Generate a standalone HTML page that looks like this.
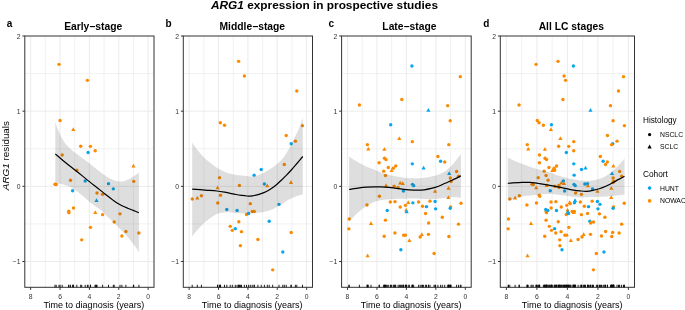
<!DOCTYPE html>
<html><head><meta charset="utf-8"><title>ARG1 expression in prospective studies</title>
<style>html,body{margin:0;padding:0;background:#fff;width:685px;height:310px;overflow:hidden}svg{display:block;will-change:transform}text{font-family:"Liberation Sans", sans-serif}</style>
</head><body>
<svg width="685" height="310" viewBox="0 0 685 310" font-family='"Liberation Sans", sans-serif' fill="#000"><text x="211.0" y="8.9" font-size="11.8" font-weight="bold" textLength="227" lengthAdjust="spacingAndGlyphs"><tspan font-style="italic">ARG1</tspan> expression in prospective studies</text>
<line x1="133.45" y1="36.0" x2="133.45" y2="287.3" stroke="#EEEEEE" stroke-width="0.8"/>
<line x1="104.08" y1="36.0" x2="104.08" y2="287.3" stroke="#EEEEEE" stroke-width="0.8"/>
<line x1="74.72" y1="36.0" x2="74.72" y2="287.3" stroke="#EEEEEE" stroke-width="0.8"/>
<line x1="45.35" y1="36.0" x2="45.35" y2="287.3" stroke="#EEEEEE" stroke-width="0.8"/>
<line x1="24.8" y1="223.93" x2="154.0" y2="223.93" stroke="#EEEEEE" stroke-width="0.8"/>
<line x1="24.8" y1="148.75" x2="154.0" y2="148.75" stroke="#EEEEEE" stroke-width="0.8"/>
<line x1="24.8" y1="73.59" x2="154.0" y2="73.59" stroke="#EEEEEE" stroke-width="0.8"/>
<line x1="148.13" y1="36.0" x2="148.13" y2="287.3" stroke="#EBEBEB" stroke-width="1.0"/>
<line x1="118.76" y1="36.0" x2="118.76" y2="287.3" stroke="#EBEBEB" stroke-width="1.0"/>
<line x1="89.40" y1="36.0" x2="89.40" y2="287.3" stroke="#EBEBEB" stroke-width="1.0"/>
<line x1="60.04" y1="36.0" x2="60.04" y2="287.3" stroke="#EBEBEB" stroke-width="1.0"/>
<line x1="30.67" y1="36.0" x2="30.67" y2="287.3" stroke="#EBEBEB" stroke-width="1.0"/>
<line x1="24.8" y1="261.51" x2="154.0" y2="261.51" stroke="#EBEBEB" stroke-width="1.0"/>
<line x1="24.8" y1="186.34" x2="154.0" y2="186.34" stroke="#EBEBEB" stroke-width="1.0"/>
<line x1="24.8" y1="111.17" x2="154.0" y2="111.17" stroke="#EBEBEB" stroke-width="1.0"/>
<circle cx="59.00" cy="64.35" r="1.7" fill="#FB8A00"/>
<circle cx="87.40" cy="80.35" r="1.7" fill="#FB8A00"/>
<circle cx="60.10" cy="120.45" r="1.7" fill="#FB8A00"/>
<circle cx="80.70" cy="146.25" r="1.7" fill="#FB8A00"/>
<circle cx="90.40" cy="146.35" r="1.7" fill="#FB8A00"/>
<circle cx="95.20" cy="150.75" r="1.7" fill="#FB8A00"/>
<circle cx="62.20" cy="155.05" r="1.7" fill="#FB8A00"/>
<circle cx="76.80" cy="170.25" r="1.7" fill="#FB8A00"/>
<circle cx="55.00" cy="184.25" r="1.7" fill="#FB8A00"/>
<circle cx="56.20" cy="184.45" r="1.7" fill="#FB8A00"/>
<circle cx="70.50" cy="180.25" r="1.7" fill="#FB8A00"/>
<circle cx="73.50" cy="207.95" r="1.7" fill="#FB8A00"/>
<circle cx="68.70" cy="211.15" r="1.7" fill="#FB8A00"/>
<circle cx="68.90" cy="212.65" r="1.7" fill="#FB8A00"/>
<circle cx="133.70" cy="181.35" r="1.7" fill="#FB8A00"/>
<circle cx="97.00" cy="193.05" r="1.7" fill="#FB8A00"/>
<circle cx="102.60" cy="194.35" r="1.7" fill="#FB8A00"/>
<circle cx="102.60" cy="214.65" r="1.7" fill="#FB8A00"/>
<circle cx="120.00" cy="213.85" r="1.7" fill="#FB8A00"/>
<circle cx="114.20" cy="221.95" r="1.7" fill="#FB8A00"/>
<circle cx="90.50" cy="227.35" r="1.7" fill="#FB8A00"/>
<circle cx="125.90" cy="231.55" r="1.7" fill="#FB8A00"/>
<circle cx="121.90" cy="235.95" r="1.7" fill="#FB8A00"/>
<circle cx="138.90" cy="232.95" r="1.7" fill="#FB8A00"/>
<circle cx="81.70" cy="239.85" r="1.7" fill="#FB8A00"/>
<path d="M73.30,127.35 L75.40,131.12 L71.20,131.12 Z" fill="#FB8A00"/>
<path d="M133.40,163.84 L135.50,167.62 L131.30,167.62 Z" fill="#FB8A00"/>
<path d="M95.30,210.34 L97.40,214.12 L93.20,214.12 Z" fill="#FB8A00"/>
<circle cx="88.10" cy="152.45" r="1.7" fill="#0AA6EA"/>
<circle cx="85.20" cy="180.95" r="1.7" fill="#0AA6EA"/>
<circle cx="72.60" cy="190.75" r="1.7" fill="#0AA6EA"/>
<circle cx="108.50" cy="183.65" r="1.7" fill="#0AA6EA"/>
<circle cx="113.30" cy="188.85" r="1.7" fill="#0AA6EA"/>
<path d="M96.50,198.25 L98.60,202.03 L94.40,202.03 Z" fill="#0AA6EA"/>
<path d="M55.30,122.00 C55.83,123.50 57.42,128.33 58.50,131.00 C59.58,133.67 60.72,136.00 61.80,138.00 C62.88,140.00 63.87,141.48 65.00,143.00 C66.13,144.52 67.35,145.80 68.60,147.10 C69.85,148.40 71.00,149.57 72.50,150.80 C74.00,152.03 75.52,152.97 77.60,154.50 C79.68,156.03 82.68,158.25 85.00,160.00 C87.32,161.75 89.35,163.30 91.50,165.00 C93.65,166.70 95.75,168.53 97.90,170.20 C100.05,171.87 102.25,173.53 104.40,175.00 C106.55,176.47 108.65,177.97 110.80,179.00 C112.95,180.03 115.15,180.83 117.30,181.20 C119.45,181.57 121.55,181.67 123.70,181.20 C125.85,180.73 128.27,179.40 130.20,178.40 C132.13,177.40 133.85,176.20 135.30,175.20 C136.75,174.20 138.30,172.87 138.90,172.40 L138.90,252.30 C138.05,251.02 136.27,247.82 133.80,244.60 C131.33,241.38 127.33,236.55 124.10,233.00 C120.87,229.45 117.63,226.47 114.40,223.30 C111.17,220.13 106.83,216.13 104.70,214.00 C102.57,211.87 103.18,211.78 101.60,210.50 C100.02,209.22 97.35,207.83 95.20,206.30 C93.05,204.77 90.85,203.08 88.70,201.30 C86.55,199.52 84.45,197.40 82.30,195.60 C80.15,193.80 77.95,192.00 75.80,190.50 C73.65,189.00 71.28,187.52 69.40,186.60 C67.52,185.68 66.02,185.47 64.50,185.00 C62.98,184.53 61.83,184.07 60.30,183.80 C58.77,183.53 56.13,183.47 55.30,183.40 Z" fill="#333333" fill-opacity="0.16"/>
<path d="M55.30,153.90 C56.83,155.20 61.75,159.43 64.50,161.70 C67.25,163.97 69.37,165.57 71.80,167.50 C74.23,169.43 76.68,171.37 79.10,173.30 C81.52,175.23 83.88,177.15 86.30,179.10 C88.72,181.05 91.38,183.25 93.60,185.00 C95.82,186.75 97.70,188.10 99.60,189.60 C101.50,191.10 103.17,192.55 105.00,194.00 C106.83,195.45 108.72,196.88 110.60,198.30 C112.48,199.72 114.40,201.27 116.30,202.50 C118.20,203.73 120.12,204.75 122.00,205.70 C123.88,206.65 125.73,207.42 127.60,208.20 C129.47,208.98 131.32,209.65 133.20,210.40 C135.08,211.15 137.95,212.32 138.90,212.70" fill="none" stroke="#000" stroke-width="1.2"/>
<path d="M55.00,284.80V287.60 M56.20,284.80V287.60 M59.00,284.80V287.60 M60.10,284.80V287.60 M62.20,284.80V287.60 M68.70,284.80V287.60 M68.90,284.80V287.60 M70.50,284.80V287.60 M72.60,284.80V287.60 M73.30,284.80V287.60 M73.50,284.80V287.60 M76.80,284.80V287.60 M80.70,284.80V287.60 M81.70,284.80V287.60 M85.20,284.80V287.60 M87.40,284.80V287.60 M88.10,284.80V287.60 M90.40,284.80V287.60 M90.50,284.80V287.60 M95.20,284.80V287.60 M95.30,284.80V287.60 M96.50,284.80V287.60 M97.00,284.80V287.60 M102.60,284.80V287.60 M108.50,284.80V287.60 M113.30,284.80V287.60 M114.20,284.80V287.60 M120.00,284.80V287.60 M121.90,284.80V287.60 M125.90,284.80V287.60 M133.40,284.80V287.60 M133.70,284.80V287.60 M138.90,284.80V287.60" stroke="#000" stroke-width="0.9"/>
<rect x="24.8" y="36.0" width="129.20" height="251.30" fill="none" stroke="#333333" stroke-width="1.0"/>
<path d="M22.40,261.51H24.80 M22.40,186.34H24.80 M22.40,111.17H24.80 M22.40,36.00H24.80 M148.13,287.30V289.90 M118.76,287.30V289.90 M89.40,287.30V289.90 M60.04,287.30V289.90 M30.67,287.30V289.90" stroke="#333333" stroke-width="1"/>
<text x="20.50" y="264.11" font-size="6.8" fill="#333333" text-anchor="end">−1</text>
<text x="20.50" y="188.94" font-size="6.8" fill="#333333" text-anchor="end">0</text>
<text x="20.50" y="113.77" font-size="6.8" fill="#333333" text-anchor="end">1</text>
<text x="20.50" y="38.60" font-size="6.8" fill="#333333" text-anchor="end">2</text>
<text x="148.13" y="298.60" font-size="6.8" fill="#333333" text-anchor="middle">0</text>
<text x="118.76" y="298.60" font-size="6.8" fill="#333333" text-anchor="middle">2</text>
<text x="89.40" y="298.60" font-size="6.8" fill="#333333" text-anchor="middle">4</text>
<text x="60.04" y="298.60" font-size="6.8" fill="#333333" text-anchor="middle">6</text>
<text x="30.67" y="298.60" font-size="6.8" fill="#333333" text-anchor="middle">8</text>
<text x="93.80" y="307.8" font-size="9.0" text-anchor="middle">Time to diagnosis (years)</text>
<text x="93.20" y="30.2" font-size="10.3" font-weight="bold" text-anchor="middle">Early−stage</text>
<text x="6.80" y="27.3" font-size="10" font-weight="bold">a</text>
<line x1="291.95" y1="36.0" x2="291.95" y2="287.3" stroke="#EEEEEE" stroke-width="0.8"/>
<line x1="262.58" y1="36.0" x2="262.58" y2="287.3" stroke="#EEEEEE" stroke-width="0.8"/>
<line x1="233.22" y1="36.0" x2="233.22" y2="287.3" stroke="#EEEEEE" stroke-width="0.8"/>
<line x1="203.85" y1="36.0" x2="203.85" y2="287.3" stroke="#EEEEEE" stroke-width="0.8"/>
<line x1="183.3" y1="223.93" x2="312.5" y2="223.93" stroke="#EEEEEE" stroke-width="0.8"/>
<line x1="183.3" y1="148.75" x2="312.5" y2="148.75" stroke="#EEEEEE" stroke-width="0.8"/>
<line x1="183.3" y1="73.59" x2="312.5" y2="73.59" stroke="#EEEEEE" stroke-width="0.8"/>
<line x1="306.63" y1="36.0" x2="306.63" y2="287.3" stroke="#EBEBEB" stroke-width="1.0"/>
<line x1="277.26" y1="36.0" x2="277.26" y2="287.3" stroke="#EBEBEB" stroke-width="1.0"/>
<line x1="247.90" y1="36.0" x2="247.90" y2="287.3" stroke="#EBEBEB" stroke-width="1.0"/>
<line x1="218.54" y1="36.0" x2="218.54" y2="287.3" stroke="#EBEBEB" stroke-width="1.0"/>
<line x1="189.17" y1="36.0" x2="189.17" y2="287.3" stroke="#EBEBEB" stroke-width="1.0"/>
<line x1="183.3" y1="261.51" x2="312.5" y2="261.51" stroke="#EBEBEB" stroke-width="1.0"/>
<line x1="183.3" y1="186.34" x2="312.5" y2="186.34" stroke="#EBEBEB" stroke-width="1.0"/>
<line x1="183.3" y1="111.17" x2="312.5" y2="111.17" stroke="#EBEBEB" stroke-width="1.0"/>
<circle cx="238.60" cy="61.35" r="1.7" fill="#FB8A00"/>
<circle cx="244.40" cy="75.95" r="1.7" fill="#FB8A00"/>
<circle cx="296.80" cy="91.05" r="1.7" fill="#FB8A00"/>
<circle cx="220.30" cy="122.75" r="1.7" fill="#FB8A00"/>
<circle cx="224.50" cy="125.25" r="1.7" fill="#FB8A00"/>
<circle cx="302.50" cy="125.65" r="1.7" fill="#FB8A00"/>
<circle cx="286.20" cy="135.55" r="1.7" fill="#FB8A00"/>
<circle cx="295.40" cy="141.15" r="1.7" fill="#FB8A00"/>
<circle cx="284.30" cy="164.45" r="1.7" fill="#FB8A00"/>
<circle cx="219.50" cy="177.65" r="1.7" fill="#FB8A00"/>
<circle cx="239.40" cy="185.45" r="1.7" fill="#FB8A00"/>
<circle cx="220.50" cy="195.25" r="1.7" fill="#FB8A00"/>
<circle cx="201.40" cy="195.75" r="1.7" fill="#FB8A00"/>
<circle cx="192.20" cy="199.05" r="1.7" fill="#FB8A00"/>
<circle cx="217.80" cy="203.05" r="1.7" fill="#FB8A00"/>
<circle cx="246.50" cy="214.55" r="1.7" fill="#FB8A00"/>
<circle cx="238.80" cy="221.75" r="1.7" fill="#FB8A00"/>
<circle cx="230.20" cy="226.35" r="1.7" fill="#FB8A00"/>
<circle cx="232.30" cy="230.35" r="1.7" fill="#FB8A00"/>
<circle cx="241.50" cy="231.65" r="1.7" fill="#FB8A00"/>
<circle cx="240.40" cy="245.65" r="1.7" fill="#FB8A00"/>
<circle cx="250.30" cy="203.65" r="1.7" fill="#FB8A00"/>
<circle cx="252.20" cy="211.45" r="1.7" fill="#FB8A00"/>
<circle cx="254.30" cy="211.45" r="1.7" fill="#FB8A00"/>
<circle cx="291.20" cy="232.45" r="1.7" fill="#FB8A00"/>
<circle cx="257.90" cy="239.45" r="1.7" fill="#FB8A00"/>
<circle cx="272.70" cy="269.85" r="1.7" fill="#FB8A00"/>
<path d="M217.60,185.54 L219.70,189.32 L215.50,189.32 Z" fill="#FB8A00"/>
<path d="M197.30,195.84 L199.40,199.62 L195.20,199.62 Z" fill="#FB8A00"/>
<path d="M267.30,183.44 L269.40,187.22 L265.20,187.22 Z" fill="#FB8A00"/>
<path d="M291.00,180.34 L293.10,184.12 L288.90,184.12 Z" fill="#FB8A00"/>
<circle cx="291.20" cy="143.75" r="1.7" fill="#0AA6EA"/>
<circle cx="226.80" cy="209.55" r="1.7" fill="#0AA6EA"/>
<circle cx="237.10" cy="210.55" r="1.7" fill="#0AA6EA"/>
<circle cx="235.30" cy="228.65" r="1.7" fill="#0AA6EA"/>
<circle cx="261.20" cy="169.55" r="1.7" fill="#0AA6EA"/>
<circle cx="254.10" cy="175.15" r="1.7" fill="#0AA6EA"/>
<circle cx="264.40" cy="183.95" r="1.7" fill="#0AA6EA"/>
<circle cx="279.00" cy="204.35" r="1.7" fill="#0AA6EA"/>
<circle cx="248.60" cy="213.55" r="1.7" fill="#0AA6EA"/>
<circle cx="269.20" cy="221.25" r="1.7" fill="#0AA6EA"/>
<circle cx="282.80" cy="251.95" r="1.7" fill="#0AA6EA"/>
<path d="M192.20,142.50 C193.32,144.05 196.72,149.08 198.90,151.80 C201.08,154.52 203.15,156.77 205.30,158.80 C207.45,160.83 209.65,162.38 211.80,164.00 C213.95,165.62 216.05,167.22 218.20,168.50 C220.35,169.78 222.33,170.73 224.70,171.70 C227.07,172.67 229.63,173.65 232.40,174.30 C235.17,174.95 238.37,175.22 241.30,175.60 C244.23,175.98 247.62,176.53 250.00,176.60 C252.38,176.67 253.72,176.47 255.60,176.00 C257.48,175.53 259.42,174.63 261.30,173.80 C263.18,172.97 265.02,172.03 266.90,171.00 C268.78,169.97 270.72,168.92 272.60,167.60 C274.48,166.28 276.32,164.88 278.20,163.10 C280.08,161.32 282.20,159.12 283.90,156.90 C285.60,154.68 287.13,151.95 288.40,149.80 C289.67,147.65 290.42,146.13 291.50,144.00 C292.58,141.87 293.58,139.73 294.90,137.00 C296.22,134.27 298.08,130.87 299.40,127.60 C300.72,124.33 302.23,119.10 302.80,117.40 L302.80,194.50 C301.60,194.82 298.00,195.52 295.60,196.40 C293.20,197.28 290.33,198.75 288.40,199.80 C286.47,200.85 285.93,201.50 284.00,202.70 C282.07,203.90 279.22,205.68 276.80,207.00 C274.38,208.32 271.92,209.73 269.50,210.60 C267.08,211.47 264.88,211.82 262.30,212.20 C259.72,212.58 256.98,212.70 254.00,212.90 C251.02,213.10 247.40,213.40 244.40,213.40 C241.40,213.40 238.63,213.08 236.00,212.90 C233.37,212.72 231.12,212.28 228.60,212.30 C226.08,212.32 223.15,212.57 220.90,213.00 C218.65,213.43 217.68,213.45 215.10,214.90 C212.52,216.35 208.32,219.22 205.40,221.70 C202.48,224.18 199.80,227.33 197.60,229.80 C195.40,232.27 193.10,235.38 192.20,236.50 Z" fill="#333333" fill-opacity="0.16"/>
<path d="M192.20,189.10 C194.40,189.27 201.27,189.78 205.40,190.10 C209.53,190.42 213.77,190.65 217.00,191.00 C220.23,191.35 221.63,191.62 224.80,192.20 C227.97,192.78 233.25,193.97 236.00,194.50 C238.75,195.03 239.48,195.15 241.30,195.40 C243.12,195.65 245.02,195.93 246.90,196.00 C248.78,196.07 250.72,196.03 252.60,195.80 C254.48,195.57 256.32,195.13 258.20,194.60 C260.08,194.07 262.02,193.40 263.90,192.60 C265.78,191.80 267.62,190.93 269.50,189.80 C271.38,188.67 273.32,187.32 275.20,185.80 C277.08,184.28 278.92,182.48 280.80,180.70 C282.68,178.92 284.75,176.88 286.50,175.10 C288.25,173.32 289.63,171.85 291.30,170.00 C292.97,168.15 294.58,166.25 296.50,164.00 C298.42,161.75 301.75,157.75 302.80,156.50" fill="none" stroke="#000" stroke-width="1.2"/>
<path d="M192.20,284.80V287.60 M197.30,284.80V287.60 M201.40,284.80V287.60 M217.60,284.80V287.60 M217.80,284.80V287.60 M219.50,284.80V287.60 M220.30,284.80V287.60 M220.50,284.80V287.60 M224.50,284.80V287.60 M226.80,284.80V287.60 M230.20,284.80V287.60 M232.30,284.80V287.60 M235.30,284.80V287.60 M237.10,284.80V287.60 M238.60,284.80V287.60 M238.80,284.80V287.60 M239.40,284.80V287.60 M240.40,284.80V287.60 M241.50,284.80V287.60 M244.40,284.80V287.60 M246.50,284.80V287.60 M248.60,284.80V287.60 M250.30,284.80V287.60 M252.20,284.80V287.60 M254.10,284.80V287.60 M254.30,284.80V287.60 M257.90,284.80V287.60 M261.20,284.80V287.60 M264.40,284.80V287.60 M267.30,284.80V287.60 M269.20,284.80V287.60 M272.70,284.80V287.60 M279.00,284.80V287.60 M282.80,284.80V287.60 M284.30,284.80V287.60 M286.20,284.80V287.60 M291.00,284.80V287.60 M291.20,284.80V287.60 M295.40,284.80V287.60 M296.80,284.80V287.60 M302.50,284.80V287.60" stroke="#000" stroke-width="0.9"/>
<rect x="183.3" y="36.0" width="129.20" height="251.30" fill="none" stroke="#333333" stroke-width="1.0"/>
<path d="M180.90,261.51H183.30 M180.90,186.34H183.30 M180.90,111.17H183.30 M180.90,36.00H183.30 M306.63,287.30V289.90 M277.26,287.30V289.90 M247.90,287.30V289.90 M218.54,287.30V289.90 M189.17,287.30V289.90" stroke="#333333" stroke-width="1"/>
<text x="179.00" y="264.11" font-size="6.8" fill="#333333" text-anchor="end">−1</text>
<text x="179.00" y="188.94" font-size="6.8" fill="#333333" text-anchor="end">0</text>
<text x="179.00" y="113.77" font-size="6.8" fill="#333333" text-anchor="end">1</text>
<text x="179.00" y="38.60" font-size="6.8" fill="#333333" text-anchor="end">2</text>
<text x="306.63" y="298.60" font-size="6.8" fill="#333333" text-anchor="middle">0</text>
<text x="277.26" y="298.60" font-size="6.8" fill="#333333" text-anchor="middle">2</text>
<text x="247.90" y="298.60" font-size="6.8" fill="#333333" text-anchor="middle">4</text>
<text x="218.54" y="298.60" font-size="6.8" fill="#333333" text-anchor="middle">6</text>
<text x="189.17" y="298.60" font-size="6.8" fill="#333333" text-anchor="middle">8</text>
<text x="252.20" y="307.8" font-size="9.0" text-anchor="middle">Time to diagnosis (years)</text>
<text x="252.30" y="30.2" font-size="10.3" font-weight="bold" text-anchor="middle">Middle−stage</text>
<text x="165.40" y="27.3" font-size="10" font-weight="bold">b</text>
<line x1="450.58" y1="36.0" x2="450.58" y2="287.3" stroke="#EEEEEE" stroke-width="0.8"/>
<line x1="421.13" y1="36.0" x2="421.13" y2="287.3" stroke="#EEEEEE" stroke-width="0.8"/>
<line x1="391.67" y1="36.0" x2="391.67" y2="287.3" stroke="#EEEEEE" stroke-width="0.8"/>
<line x1="362.22" y1="36.0" x2="362.22" y2="287.3" stroke="#EEEEEE" stroke-width="0.8"/>
<line x1="341.6" y1="223.93" x2="471.2" y2="223.93" stroke="#EEEEEE" stroke-width="0.8"/>
<line x1="341.6" y1="148.75" x2="471.2" y2="148.75" stroke="#EEEEEE" stroke-width="0.8"/>
<line x1="341.6" y1="73.59" x2="471.2" y2="73.59" stroke="#EEEEEE" stroke-width="0.8"/>
<line x1="465.31" y1="36.0" x2="465.31" y2="287.3" stroke="#EBEBEB" stroke-width="1.0"/>
<line x1="435.85" y1="36.0" x2="435.85" y2="287.3" stroke="#EBEBEB" stroke-width="1.0"/>
<line x1="406.40" y1="36.0" x2="406.40" y2="287.3" stroke="#EBEBEB" stroke-width="1.0"/>
<line x1="376.95" y1="36.0" x2="376.95" y2="287.3" stroke="#EBEBEB" stroke-width="1.0"/>
<line x1="347.49" y1="36.0" x2="347.49" y2="287.3" stroke="#EBEBEB" stroke-width="1.0"/>
<line x1="341.6" y1="261.51" x2="471.2" y2="261.51" stroke="#EBEBEB" stroke-width="1.0"/>
<line x1="341.6" y1="186.34" x2="471.2" y2="186.34" stroke="#EBEBEB" stroke-width="1.0"/>
<line x1="341.6" y1="111.17" x2="471.2" y2="111.17" stroke="#EBEBEB" stroke-width="1.0"/>
<circle cx="401.80" cy="99.55" r="1.7" fill="#FB8A00"/>
<circle cx="359.40" cy="105.05" r="1.7" fill="#FB8A00"/>
<circle cx="460.30" cy="76.65" r="1.7" fill="#FB8A00"/>
<circle cx="447.70" cy="105.65" r="1.7" fill="#FB8A00"/>
<circle cx="450.20" cy="120.75" r="1.7" fill="#FB8A00"/>
<circle cx="412.30" cy="141.65" r="1.7" fill="#FB8A00"/>
<circle cx="448.80" cy="144.65" r="1.7" fill="#FB8A00"/>
<circle cx="367.40" cy="144.65" r="1.7" fill="#FB8A00"/>
<circle cx="437.90" cy="156.55" r="1.7" fill="#FB8A00"/>
<circle cx="384.50" cy="158.25" r="1.7" fill="#FB8A00"/>
<circle cx="386.00" cy="159.55" r="1.7" fill="#FB8A00"/>
<circle cx="379.10" cy="162.75" r="1.7" fill="#FB8A00"/>
<circle cx="388.30" cy="167.45" r="1.7" fill="#FB8A00"/>
<circle cx="393.30" cy="168.25" r="1.7" fill="#FB8A00"/>
<circle cx="395.70" cy="165.95" r="1.7" fill="#FB8A00"/>
<circle cx="383.70" cy="171.15" r="1.7" fill="#FB8A00"/>
<circle cx="385.50" cy="175.55" r="1.7" fill="#FB8A00"/>
<circle cx="379.40" cy="196.25" r="1.7" fill="#FB8A00"/>
<circle cx="394.10" cy="186.25" r="1.7" fill="#FB8A00"/>
<circle cx="398.10" cy="187.55" r="1.7" fill="#FB8A00"/>
<circle cx="444.70" cy="161.95" r="1.7" fill="#FB8A00"/>
<circle cx="456.60" cy="171.45" r="1.7" fill="#FB8A00"/>
<circle cx="458.50" cy="176.25" r="1.7" fill="#FB8A00"/>
<circle cx="450.30" cy="178.05" r="1.7" fill="#FB8A00"/>
<circle cx="451.10" cy="181.45" r="1.7" fill="#FB8A00"/>
<circle cx="367.00" cy="204.95" r="1.7" fill="#FB8A00"/>
<circle cx="390.30" cy="201.95" r="1.7" fill="#FB8A00"/>
<circle cx="395.00" cy="201.65" r="1.7" fill="#FB8A00"/>
<circle cx="418.60" cy="202.05" r="1.7" fill="#FB8A00"/>
<circle cx="430.00" cy="201.15" r="1.7" fill="#FB8A00"/>
<circle cx="400.20" cy="206.95" r="1.7" fill="#FB8A00"/>
<circle cx="405.50" cy="205.35" r="1.7" fill="#FB8A00"/>
<circle cx="422.50" cy="206.25" r="1.7" fill="#FB8A00"/>
<circle cx="425.60" cy="213.55" r="1.7" fill="#FB8A00"/>
<circle cx="428.60" cy="222.95" r="1.7" fill="#FB8A00"/>
<circle cx="394.90" cy="233.05" r="1.7" fill="#FB8A00"/>
<circle cx="403.70" cy="235.15" r="1.7" fill="#FB8A00"/>
<circle cx="405.40" cy="235.15" r="1.7" fill="#FB8A00"/>
<circle cx="420.20" cy="237.05" r="1.7" fill="#FB8A00"/>
<circle cx="428.40" cy="234.35" r="1.7" fill="#FB8A00"/>
<circle cx="349.20" cy="219.05" r="1.7" fill="#FB8A00"/>
<circle cx="385.50" cy="220.15" r="1.7" fill="#FB8A00"/>
<circle cx="348.90" cy="228.85" r="1.7" fill="#FB8A00"/>
<circle cx="384.20" cy="236.25" r="1.7" fill="#FB8A00"/>
<circle cx="461.00" cy="203.25" r="1.7" fill="#FB8A00"/>
<circle cx="450.60" cy="207.05" r="1.7" fill="#FB8A00"/>
<circle cx="442.30" cy="217.25" r="1.7" fill="#FB8A00"/>
<circle cx="458.50" cy="224.15" r="1.7" fill="#FB8A00"/>
<circle cx="448.90" cy="236.45" r="1.7" fill="#FB8A00"/>
<circle cx="434.10" cy="253.45" r="1.7" fill="#FB8A00"/>
<path d="M399.30,136.34 L401.40,140.12 L397.20,140.12 Z" fill="#FB8A00"/>
<path d="M368.30,146.64 L370.40,150.42 L366.20,150.42 Z" fill="#FB8A00"/>
<path d="M384.40,147.04 L386.50,150.82 L382.30,150.82 Z" fill="#FB8A00"/>
<path d="M391.60,168.25 L393.70,172.03 L389.50,172.03 Z" fill="#FB8A00"/>
<path d="M386.10,183.14 L388.20,186.92 L384.00,186.92 Z" fill="#FB8A00"/>
<path d="M400.20,180.64 L402.30,184.42 L398.10,184.42 Z" fill="#FB8A00"/>
<path d="M402.80,181.34 L404.90,185.12 L400.70,185.12 Z" fill="#FB8A00"/>
<path d="M435.10,188.94 L437.20,192.72 L433.00,192.72 Z" fill="#FB8A00"/>
<path d="M448.50,186.04 L450.60,189.82 L446.40,189.82 Z" fill="#FB8A00"/>
<path d="M448.40,195.25 L450.50,199.03 L446.30,199.03 Z" fill="#FB8A00"/>
<path d="M408.30,200.25 L410.40,204.03 L406.20,204.03 Z" fill="#FB8A00"/>
<path d="M371.00,221.34 L373.10,225.12 L368.90,225.12 Z" fill="#FB8A00"/>
<path d="M406.20,207.75 L408.30,211.53 L404.10,211.53 Z" fill="#FB8A00"/>
<path d="M409.40,238.14 L411.50,241.92 L407.30,241.92 Z" fill="#FB8A00"/>
<path d="M421.80,232.14 L423.90,235.92 L419.70,235.92 Z" fill="#FB8A00"/>
<path d="M367.60,253.54 L369.70,257.32 L365.50,257.32 Z" fill="#FB8A00"/>
<circle cx="411.90" cy="65.95" r="1.7" fill="#0AA6EA"/>
<circle cx="390.70" cy="124.75" r="1.7" fill="#0AA6EA"/>
<circle cx="412.30" cy="163.85" r="1.7" fill="#0AA6EA"/>
<circle cx="440.60" cy="161.25" r="1.7" fill="#0AA6EA"/>
<circle cx="412.50" cy="184.35" r="1.7" fill="#0AA6EA"/>
<circle cx="413.70" cy="185.65" r="1.7" fill="#0AA6EA"/>
<circle cx="403.40" cy="190.95" r="1.7" fill="#0AA6EA"/>
<circle cx="412.90" cy="202.85" r="1.7" fill="#0AA6EA"/>
<circle cx="435.10" cy="201.55" r="1.7" fill="#0AA6EA"/>
<circle cx="426.50" cy="206.65" r="1.7" fill="#0AA6EA"/>
<circle cx="435.60" cy="208.85" r="1.7" fill="#0AA6EA"/>
<circle cx="387.20" cy="210.45" r="1.7" fill="#0AA6EA"/>
<circle cx="450.20" cy="208.25" r="1.7" fill="#0AA6EA"/>
<circle cx="400.90" cy="249.75" r="1.7" fill="#0AA6EA"/>
<path d="M428.40,108.05 L430.50,111.83 L426.30,111.83 Z" fill="#0AA6EA"/>
<path d="M423.60,165.64 L425.70,169.42 L421.50,169.42 Z" fill="#0AA6EA"/>
<path d="M449.20,171.14 L451.30,174.92 L447.10,174.92 Z" fill="#0AA6EA"/>
<path d="M406.60,209.44 L408.70,213.22 L404.50,213.22 Z" fill="#0AA6EA"/>
<path d="M349.10,156.50 C349.63,156.87 350.57,157.60 352.30,158.70 C354.03,159.80 357.08,161.77 359.50,163.10 C361.92,164.43 364.37,165.62 366.80,166.70 C369.23,167.78 371.68,168.63 374.10,169.60 C376.52,170.57 378.88,171.65 381.30,172.50 C383.72,173.35 386.32,174.07 388.60,174.70 C390.88,175.33 392.72,175.85 395.00,176.30 C397.28,176.75 399.88,177.08 402.30,177.40 C404.72,177.72 407.08,178.05 409.50,178.20 C411.92,178.35 414.37,178.38 416.80,178.30 C419.23,178.22 421.68,178.00 424.10,177.70 C426.52,177.40 428.88,177.05 431.30,176.50 C433.72,175.95 436.32,175.25 438.60,174.40 C440.88,173.55 443.22,172.50 445.00,171.40 C446.78,170.30 447.62,169.45 449.30,167.80 C450.98,166.15 453.17,163.80 455.10,161.50 C457.03,159.20 459.93,155.25 460.90,154.00 L460.90,197.80 C459.27,197.72 453.85,197.28 451.10,197.30 C448.35,197.32 447.13,197.63 444.40,197.90 C441.67,198.17 437.93,198.70 434.70,198.90 C431.47,199.10 427.98,199.17 425.00,199.10 C422.02,199.03 419.38,198.60 416.80,198.50 C414.22,198.40 411.92,198.45 409.50,198.50 C407.08,198.55 404.72,198.72 402.30,198.80 C399.88,198.88 398.10,198.85 395.00,199.00 C391.90,199.15 386.67,199.37 383.70,199.70 C380.73,200.03 379.35,200.37 377.20,201.00 C375.05,201.63 372.95,202.43 370.80,203.50 C368.65,204.57 366.45,205.88 364.30,207.40 C362.15,208.92 359.83,210.88 357.90,212.60 C355.97,214.32 354.17,216.20 352.70,217.70 C351.23,219.20 349.70,220.95 349.10,221.60 Z" fill="#333333" fill-opacity="0.16"/>
<path d="M349.10,189.50 C350.83,189.22 356.55,188.20 359.50,187.80 C362.45,187.40 364.37,187.27 366.80,187.10 C369.23,186.93 371.68,186.83 374.10,186.80 C376.52,186.77 378.88,186.80 381.30,186.90 C383.72,187.00 386.32,187.20 388.60,187.40 C390.88,187.60 392.72,187.82 395.00,188.10 C397.28,188.38 399.88,188.82 402.30,189.10 C404.72,189.38 407.08,189.63 409.50,189.80 C411.92,189.97 414.37,190.10 416.80,190.10 C419.23,190.10 421.68,190.08 424.10,189.80 C426.52,189.52 428.88,189.00 431.30,188.40 C433.72,187.80 436.32,187.05 438.60,186.20 C440.88,185.35 442.75,184.28 445.00,183.30 C447.25,182.32 449.45,181.53 452.10,180.30 C454.75,179.07 459.43,176.63 460.90,175.90" fill="none" stroke="#000" stroke-width="1.2"/>
<path d="M348.90,284.80V287.60 M349.20,284.80V287.60 M359.40,284.80V287.60 M367.00,284.80V287.60 M367.40,284.80V287.60 M367.60,284.80V287.60 M368.30,284.80V287.60 M371.00,284.80V287.60 M379.10,284.80V287.60 M379.40,284.80V287.60 M383.70,284.80V287.60 M384.20,284.80V287.60 M384.40,284.80V287.60 M384.50,284.80V287.60 M385.50,284.80V287.60 M386.00,284.80V287.60 M386.10,284.80V287.60 M387.20,284.80V287.60 M388.30,284.80V287.60 M390.30,284.80V287.60 M390.70,284.80V287.60 M391.60,284.80V287.60 M393.30,284.80V287.60 M394.10,284.80V287.60 M394.90,284.80V287.60 M395.00,284.80V287.60 M395.70,284.80V287.60 M398.10,284.80V287.60 M399.30,284.80V287.60 M400.20,284.80V287.60 M400.90,284.80V287.60 M401.80,284.80V287.60 M402.80,284.80V287.60 M403.40,284.80V287.60 M403.70,284.80V287.60 M405.40,284.80V287.60 M405.50,284.80V287.60 M406.20,284.80V287.60 M406.60,284.80V287.60 M408.30,284.80V287.60 M409.40,284.80V287.60 M411.90,284.80V287.60 M412.30,284.80V287.60 M412.50,284.80V287.60 M412.90,284.80V287.60 M413.70,284.80V287.60 M418.60,284.80V287.60 M420.20,284.80V287.60 M421.80,284.80V287.60 M422.50,284.80V287.60 M423.60,284.80V287.60 M425.60,284.80V287.60 M426.50,284.80V287.60 M428.40,284.80V287.60 M428.60,284.80V287.60 M430.00,284.80V287.60 M434.10,284.80V287.60 M435.10,284.80V287.60 M435.60,284.80V287.60 M437.90,284.80V287.60 M440.60,284.80V287.60 M442.30,284.80V287.60 M444.70,284.80V287.60 M447.70,284.80V287.60 M448.40,284.80V287.60 M448.50,284.80V287.60 M448.80,284.80V287.60 M448.90,284.80V287.60 M449.20,284.80V287.60 M450.20,284.80V287.60 M450.30,284.80V287.60 M450.60,284.80V287.60 M451.10,284.80V287.60 M456.60,284.80V287.60 M458.50,284.80V287.60 M460.30,284.80V287.60 M461.00,284.80V287.60" stroke="#000" stroke-width="0.9"/>
<rect x="341.6" y="36.0" width="129.60" height="251.30" fill="none" stroke="#333333" stroke-width="1.0"/>
<path d="M339.20,261.51H341.60 M339.20,186.34H341.60 M339.20,111.17H341.60 M339.20,36.00H341.60 M465.31,287.30V289.90 M435.85,287.30V289.90 M406.40,287.30V289.90 M376.95,287.30V289.90 M347.49,287.30V289.90" stroke="#333333" stroke-width="1"/>
<text x="337.30" y="264.11" font-size="6.8" fill="#333333" text-anchor="end">−1</text>
<text x="337.30" y="188.94" font-size="6.8" fill="#333333" text-anchor="end">0</text>
<text x="337.30" y="113.77" font-size="6.8" fill="#333333" text-anchor="end">1</text>
<text x="337.30" y="38.60" font-size="6.8" fill="#333333" text-anchor="end">2</text>
<text x="465.31" y="298.60" font-size="6.8" fill="#333333" text-anchor="middle">0</text>
<text x="435.85" y="298.60" font-size="6.8" fill="#333333" text-anchor="middle">2</text>
<text x="406.40" y="298.60" font-size="6.8" fill="#333333" text-anchor="middle">4</text>
<text x="376.95" y="298.60" font-size="6.8" fill="#333333" text-anchor="middle">6</text>
<text x="347.49" y="298.60" font-size="6.8" fill="#333333" text-anchor="middle">8</text>
<text x="411.10" y="307.8" font-size="9.0" text-anchor="middle">Time to diagnosis (years)</text>
<text x="409.40" y="30.2" font-size="10.3" font-weight="bold" text-anchor="middle">Late−stage</text>
<text x="328.50" y="27.3" font-size="10" font-weight="bold">c</text>
<line x1="613.15" y1="36.0" x2="613.15" y2="287.3" stroke="#EEEEEE" stroke-width="0.8"/>
<line x1="582.65" y1="36.0" x2="582.65" y2="287.3" stroke="#EEEEEE" stroke-width="0.8"/>
<line x1="552.15" y1="36.0" x2="552.15" y2="287.3" stroke="#EEEEEE" stroke-width="0.8"/>
<line x1="521.65" y1="36.0" x2="521.65" y2="287.3" stroke="#EEEEEE" stroke-width="0.8"/>
<line x1="500.3" y1="223.93" x2="634.5" y2="223.93" stroke="#EEEEEE" stroke-width="0.8"/>
<line x1="500.3" y1="148.75" x2="634.5" y2="148.75" stroke="#EEEEEE" stroke-width="0.8"/>
<line x1="500.3" y1="73.59" x2="634.5" y2="73.59" stroke="#EEEEEE" stroke-width="0.8"/>
<line x1="628.40" y1="36.0" x2="628.40" y2="287.3" stroke="#EBEBEB" stroke-width="1.0"/>
<line x1="597.90" y1="36.0" x2="597.90" y2="287.3" stroke="#EBEBEB" stroke-width="1.0"/>
<line x1="567.40" y1="36.0" x2="567.40" y2="287.3" stroke="#EBEBEB" stroke-width="1.0"/>
<line x1="536.90" y1="36.0" x2="536.90" y2="287.3" stroke="#EBEBEB" stroke-width="1.0"/>
<line x1="506.40" y1="36.0" x2="506.40" y2="287.3" stroke="#EBEBEB" stroke-width="1.0"/>
<line x1="500.3" y1="261.51" x2="634.5" y2="261.51" stroke="#EBEBEB" stroke-width="1.0"/>
<line x1="500.3" y1="186.34" x2="634.5" y2="186.34" stroke="#EBEBEB" stroke-width="1.0"/>
<line x1="500.3" y1="111.17" x2="634.5" y2="111.17" stroke="#EBEBEB" stroke-width="1.0"/>
<circle cx="536.12" cy="64.35" r="1.7" fill="#FB8A00"/>
<circle cx="565.62" cy="80.35" r="1.7" fill="#FB8A00"/>
<circle cx="537.27" cy="120.45" r="1.7" fill="#FB8A00"/>
<circle cx="558.66" cy="146.25" r="1.7" fill="#FB8A00"/>
<circle cx="568.74" cy="146.35" r="1.7" fill="#FB8A00"/>
<circle cx="573.72" cy="150.75" r="1.7" fill="#FB8A00"/>
<circle cx="539.45" cy="155.05" r="1.7" fill="#FB8A00"/>
<circle cx="554.61" cy="170.25" r="1.7" fill="#FB8A00"/>
<circle cx="531.97" cy="184.25" r="1.7" fill="#FB8A00"/>
<circle cx="533.22" cy="184.45" r="1.7" fill="#FB8A00"/>
<circle cx="548.07" cy="180.25" r="1.7" fill="#FB8A00"/>
<circle cx="551.18" cy="207.95" r="1.7" fill="#FB8A00"/>
<circle cx="546.20" cy="211.15" r="1.7" fill="#FB8A00"/>
<circle cx="546.41" cy="212.65" r="1.7" fill="#FB8A00"/>
<circle cx="613.71" cy="181.35" r="1.7" fill="#FB8A00"/>
<circle cx="575.59" cy="193.05" r="1.7" fill="#FB8A00"/>
<circle cx="581.41" cy="194.35" r="1.7" fill="#FB8A00"/>
<circle cx="581.41" cy="214.65" r="1.7" fill="#FB8A00"/>
<circle cx="599.48" cy="213.85" r="1.7" fill="#FB8A00"/>
<circle cx="593.46" cy="221.95" r="1.7" fill="#FB8A00"/>
<circle cx="568.84" cy="227.35" r="1.7" fill="#FB8A00"/>
<circle cx="605.61" cy="231.55" r="1.7" fill="#FB8A00"/>
<circle cx="601.46" cy="235.95" r="1.7" fill="#FB8A00"/>
<circle cx="619.12" cy="232.95" r="1.7" fill="#FB8A00"/>
<circle cx="559.70" cy="239.85" r="1.7" fill="#FB8A00"/>
<path d="M550.98,127.35 L553.08,131.12 L548.88,131.12 Z" fill="#FB8A00"/>
<path d="M613.40,163.84 L615.50,167.62 L611.30,167.62 Z" fill="#FB8A00"/>
<path d="M573.83,210.34 L575.93,214.12 L571.73,214.12 Z" fill="#FB8A00"/>
<circle cx="566.35" cy="152.45" r="1.7" fill="#0AA6EA"/>
<circle cx="563.34" cy="180.95" r="1.7" fill="#0AA6EA"/>
<circle cx="550.25" cy="190.75" r="1.7" fill="#0AA6EA"/>
<circle cx="587.54" cy="183.65" r="1.7" fill="#0AA6EA"/>
<circle cx="592.52" cy="188.85" r="1.7" fill="#0AA6EA"/>
<path d="M575.07,198.25 L577.17,202.03 L572.97,202.03 Z" fill="#0AA6EA"/>
<circle cx="558.04" cy="61.35" r="1.7" fill="#FB8A00"/>
<circle cx="564.06" cy="75.95" r="1.7" fill="#FB8A00"/>
<circle cx="618.49" cy="91.05" r="1.7" fill="#FB8A00"/>
<circle cx="539.03" cy="122.75" r="1.7" fill="#FB8A00"/>
<circle cx="543.39" cy="125.25" r="1.7" fill="#FB8A00"/>
<circle cx="624.41" cy="125.65" r="1.7" fill="#FB8A00"/>
<circle cx="607.48" cy="135.55" r="1.7" fill="#FB8A00"/>
<circle cx="617.04" cy="141.15" r="1.7" fill="#FB8A00"/>
<circle cx="605.51" cy="164.45" r="1.7" fill="#FB8A00"/>
<circle cx="538.20" cy="177.65" r="1.7" fill="#FB8A00"/>
<circle cx="558.87" cy="185.45" r="1.7" fill="#FB8A00"/>
<circle cx="539.24" cy="195.25" r="1.7" fill="#FB8A00"/>
<circle cx="519.40" cy="195.75" r="1.7" fill="#FB8A00"/>
<circle cx="509.84" cy="199.05" r="1.7" fill="#FB8A00"/>
<circle cx="536.44" cy="203.05" r="1.7" fill="#FB8A00"/>
<circle cx="566.25" cy="214.55" r="1.7" fill="#FB8A00"/>
<circle cx="558.25" cy="221.75" r="1.7" fill="#FB8A00"/>
<circle cx="549.32" cy="226.35" r="1.7" fill="#FB8A00"/>
<circle cx="551.50" cy="230.35" r="1.7" fill="#FB8A00"/>
<circle cx="561.05" cy="231.65" r="1.7" fill="#FB8A00"/>
<circle cx="559.91" cy="245.65" r="1.7" fill="#FB8A00"/>
<circle cx="570.19" cy="203.65" r="1.7" fill="#FB8A00"/>
<circle cx="572.17" cy="211.45" r="1.7" fill="#FB8A00"/>
<circle cx="574.35" cy="211.45" r="1.7" fill="#FB8A00"/>
<circle cx="612.68" cy="232.45" r="1.7" fill="#FB8A00"/>
<circle cx="578.09" cy="239.45" r="1.7" fill="#FB8A00"/>
<circle cx="593.46" cy="269.85" r="1.7" fill="#FB8A00"/>
<path d="M536.23,185.54 L538.33,189.32 L534.13,189.32 Z" fill="#FB8A00"/>
<path d="M515.14,195.84 L517.24,199.62 L513.04,199.62 Z" fill="#FB8A00"/>
<path d="M587.85,183.44 L589.95,187.22 L585.75,187.22 Z" fill="#FB8A00"/>
<path d="M612.47,180.34 L614.57,184.12 L610.37,184.12 Z" fill="#FB8A00"/>
<circle cx="612.68" cy="143.75" r="1.7" fill="#0AA6EA"/>
<circle cx="545.78" cy="209.55" r="1.7" fill="#0AA6EA"/>
<circle cx="556.48" cy="210.55" r="1.7" fill="#0AA6EA"/>
<circle cx="554.61" cy="228.65" r="1.7" fill="#0AA6EA"/>
<circle cx="581.51" cy="169.55" r="1.7" fill="#0AA6EA"/>
<circle cx="574.14" cy="175.15" r="1.7" fill="#0AA6EA"/>
<circle cx="584.84" cy="183.95" r="1.7" fill="#0AA6EA"/>
<circle cx="600.00" cy="204.35" r="1.7" fill="#0AA6EA"/>
<circle cx="568.43" cy="213.55" r="1.7" fill="#0AA6EA"/>
<circle cx="589.82" cy="221.25" r="1.7" fill="#0AA6EA"/>
<circle cx="603.95" cy="251.95" r="1.7" fill="#0AA6EA"/>
<circle cx="562.94" cy="99.55" r="1.7" fill="#FB8A00"/>
<circle cx="519.03" cy="105.05" r="1.7" fill="#FB8A00"/>
<circle cx="623.51" cy="76.65" r="1.7" fill="#FB8A00"/>
<circle cx="610.47" cy="105.65" r="1.7" fill="#FB8A00"/>
<circle cx="613.05" cy="120.75" r="1.7" fill="#FB8A00"/>
<circle cx="573.81" cy="141.65" r="1.7" fill="#FB8A00"/>
<circle cx="611.60" cy="144.65" r="1.7" fill="#FB8A00"/>
<circle cx="527.32" cy="144.65" r="1.7" fill="#FB8A00"/>
<circle cx="600.32" cy="156.55" r="1.7" fill="#FB8A00"/>
<circle cx="545.02" cy="158.25" r="1.7" fill="#FB8A00"/>
<circle cx="546.58" cy="159.55" r="1.7" fill="#FB8A00"/>
<circle cx="539.43" cy="162.75" r="1.7" fill="#FB8A00"/>
<circle cx="548.96" cy="167.45" r="1.7" fill="#FB8A00"/>
<circle cx="554.14" cy="168.25" r="1.7" fill="#FB8A00"/>
<circle cx="556.62" cy="165.95" r="1.7" fill="#FB8A00"/>
<circle cx="544.19" cy="171.15" r="1.7" fill="#FB8A00"/>
<circle cx="546.06" cy="175.55" r="1.7" fill="#FB8A00"/>
<circle cx="539.74" cy="196.25" r="1.7" fill="#FB8A00"/>
<circle cx="554.96" cy="186.25" r="1.7" fill="#FB8A00"/>
<circle cx="559.11" cy="187.55" r="1.7" fill="#FB8A00"/>
<circle cx="607.36" cy="161.95" r="1.7" fill="#FB8A00"/>
<circle cx="619.68" cy="171.45" r="1.7" fill="#FB8A00"/>
<circle cx="621.65" cy="176.25" r="1.7" fill="#FB8A00"/>
<circle cx="613.16" cy="178.05" r="1.7" fill="#FB8A00"/>
<circle cx="613.99" cy="181.45" r="1.7" fill="#FB8A00"/>
<circle cx="526.90" cy="204.95" r="1.7" fill="#FB8A00"/>
<circle cx="551.03" cy="201.95" r="1.7" fill="#FB8A00"/>
<circle cx="555.90" cy="201.65" r="1.7" fill="#FB8A00"/>
<circle cx="580.33" cy="202.05" r="1.7" fill="#FB8A00"/>
<circle cx="592.14" cy="201.15" r="1.7" fill="#FB8A00"/>
<circle cx="561.28" cy="206.95" r="1.7" fill="#FB8A00"/>
<circle cx="566.77" cy="205.35" r="1.7" fill="#FB8A00"/>
<circle cx="584.37" cy="206.25" r="1.7" fill="#FB8A00"/>
<circle cx="587.58" cy="213.55" r="1.7" fill="#FB8A00"/>
<circle cx="590.69" cy="222.95" r="1.7" fill="#FB8A00"/>
<circle cx="555.79" cy="233.05" r="1.7" fill="#FB8A00"/>
<circle cx="564.90" cy="235.15" r="1.7" fill="#FB8A00"/>
<circle cx="566.66" cy="235.15" r="1.7" fill="#FB8A00"/>
<circle cx="581.99" cy="237.05" r="1.7" fill="#FB8A00"/>
<circle cx="590.48" cy="234.35" r="1.7" fill="#FB8A00"/>
<circle cx="508.47" cy="219.05" r="1.7" fill="#FB8A00"/>
<circle cx="546.06" cy="220.15" r="1.7" fill="#FB8A00"/>
<circle cx="508.16" cy="228.85" r="1.7" fill="#FB8A00"/>
<circle cx="544.71" cy="236.25" r="1.7" fill="#FB8A00"/>
<circle cx="624.24" cy="203.25" r="1.7" fill="#FB8A00"/>
<circle cx="613.47" cy="207.05" r="1.7" fill="#FB8A00"/>
<circle cx="604.87" cy="217.25" r="1.7" fill="#FB8A00"/>
<circle cx="621.65" cy="224.15" r="1.7" fill="#FB8A00"/>
<circle cx="611.71" cy="236.45" r="1.7" fill="#FB8A00"/>
<circle cx="596.38" cy="253.45" r="1.7" fill="#FB8A00"/>
<path d="M560.35,136.34 L562.45,140.12 L558.25,140.12 Z" fill="#FB8A00"/>
<path d="M528.25,146.64 L530.35,150.42 L526.15,150.42 Z" fill="#FB8A00"/>
<path d="M544.92,147.04 L547.02,150.82 L542.82,150.82 Z" fill="#FB8A00"/>
<path d="M552.37,168.25 L554.47,172.03 L550.27,172.03 Z" fill="#FB8A00"/>
<path d="M546.68,183.14 L548.78,186.92 L544.58,186.92 Z" fill="#FB8A00"/>
<path d="M561.28,180.64 L563.38,184.42 L559.18,184.42 Z" fill="#FB8A00"/>
<path d="M563.97,181.34 L566.07,185.12 L561.87,185.12 Z" fill="#FB8A00"/>
<path d="M597.42,188.94 L599.52,192.72 L595.32,192.72 Z" fill="#FB8A00"/>
<path d="M611.29,186.04 L613.39,189.82 L609.19,189.82 Z" fill="#FB8A00"/>
<path d="M611.19,195.25 L613.29,199.03 L609.09,199.03 Z" fill="#FB8A00"/>
<path d="M569.67,200.25 L571.77,204.03 L567.57,204.03 Z" fill="#FB8A00"/>
<path d="M531.04,221.34 L533.14,225.12 L528.94,225.12 Z" fill="#FB8A00"/>
<path d="M567.49,207.75 L569.59,211.53 L565.39,211.53 Z" fill="#FB8A00"/>
<path d="M570.81,238.14 L572.91,241.92 L568.71,241.92 Z" fill="#FB8A00"/>
<path d="M583.65,232.14 L585.75,235.92 L581.55,235.92 Z" fill="#FB8A00"/>
<path d="M527.52,253.54 L529.62,257.32 L525.42,257.32 Z" fill="#FB8A00"/>
<circle cx="573.40" cy="65.95" r="1.7" fill="#0AA6EA"/>
<circle cx="551.44" cy="124.75" r="1.7" fill="#0AA6EA"/>
<circle cx="573.81" cy="163.85" r="1.7" fill="#0AA6EA"/>
<circle cx="603.11" cy="161.25" r="1.7" fill="#0AA6EA"/>
<circle cx="574.02" cy="184.35" r="1.7" fill="#0AA6EA"/>
<circle cx="575.26" cy="185.65" r="1.7" fill="#0AA6EA"/>
<circle cx="564.59" cy="190.95" r="1.7" fill="#0AA6EA"/>
<circle cx="574.43" cy="202.85" r="1.7" fill="#0AA6EA"/>
<circle cx="597.42" cy="201.55" r="1.7" fill="#0AA6EA"/>
<circle cx="588.51" cy="206.65" r="1.7" fill="#0AA6EA"/>
<circle cx="597.94" cy="208.85" r="1.7" fill="#0AA6EA"/>
<circle cx="547.82" cy="210.45" r="1.7" fill="#0AA6EA"/>
<circle cx="613.05" cy="208.25" r="1.7" fill="#0AA6EA"/>
<circle cx="562.00" cy="249.75" r="1.7" fill="#0AA6EA"/>
<path d="M590.48,108.05 L592.58,111.83 L588.38,111.83 Z" fill="#0AA6EA"/>
<path d="M585.51,165.64 L587.61,169.42 L583.41,169.42 Z" fill="#0AA6EA"/>
<path d="M612.02,171.14 L614.12,174.92 L609.92,174.92 Z" fill="#0AA6EA"/>
<path d="M567.91,209.44 L570.01,213.22 L565.81,213.22 Z" fill="#0AA6EA"/>
<path d="M507.80,157.40 C508.62,157.85 510.27,159.00 512.70,160.10 C515.13,161.20 519.17,162.78 522.40,164.00 C525.63,165.22 528.87,166.35 532.10,167.40 C535.33,168.45 538.32,169.30 541.80,170.30 C545.28,171.30 550.28,172.52 553.00,173.40 C555.72,174.28 555.92,174.87 558.10,175.60 C560.28,176.33 563.42,177.17 566.10,177.80 C568.78,178.43 571.88,178.97 574.20,179.40 C576.52,179.83 577.97,180.17 580.00,180.40 C582.03,180.63 584.25,180.80 586.40,180.80 C588.55,180.80 590.75,180.70 592.90,180.40 C595.05,180.10 597.15,179.73 599.30,179.00 C601.45,178.27 603.65,177.27 605.80,176.00 C607.95,174.73 610.05,173.18 612.20,171.40 C614.35,169.62 616.65,167.43 618.70,165.30 C620.75,163.17 623.53,159.72 624.50,158.60 L624.50,194.40 C623.53,194.55 621.82,194.95 618.70,195.30 C615.58,195.65 610.10,196.22 605.80,196.50 C601.50,196.78 596.78,196.85 592.90,197.00 C589.02,197.15 585.68,197.42 582.50,197.40 C579.32,197.38 576.72,197.20 573.80,196.90 C570.88,196.60 567.92,196.02 565.00,195.60 C562.08,195.18 559.22,194.67 556.30,194.40 C553.38,194.13 550.42,194.00 547.50,194.00 C544.58,194.00 541.72,194.13 538.80,194.40 C535.88,194.67 532.73,195.25 530.00,195.60 C527.27,195.95 525.28,195.87 522.40,196.50 C519.52,197.13 515.13,198.68 512.70,199.40 C510.27,200.12 508.62,200.57 507.80,200.80 Z" fill="#333333" fill-opacity="0.16"/>
<path d="M507.80,183.30 C508.62,183.23 510.27,183.05 512.70,182.90 C515.13,182.75 519.52,182.48 522.40,182.40 C525.28,182.32 527.27,182.22 530.00,182.40 C532.73,182.58 535.88,183.10 538.80,183.50 C541.72,183.90 544.58,184.28 547.50,184.80 C550.42,185.32 553.38,186.02 556.30,186.60 C559.22,187.18 562.08,187.72 565.00,188.30 C567.92,188.88 571.30,189.67 573.80,190.10 C576.30,190.53 577.90,190.70 580.00,190.90 C582.10,191.10 584.25,191.38 586.40,191.30 C588.55,191.22 590.75,190.82 592.90,190.40 C595.05,189.98 597.15,189.48 599.30,188.80 C601.45,188.12 603.65,187.27 605.80,186.30 C607.95,185.33 610.05,184.15 612.20,183.00 C614.35,181.85 616.65,180.52 618.70,179.40 C620.75,178.28 623.53,176.82 624.50,176.30" fill="none" stroke="#000" stroke-width="1.2"/>
<path d="M508.20,284.80V287.60 M508.50,284.80V287.60 M509.80,284.80V287.60 M515.10,284.80V287.60 M519.00,284.80V287.60 M519.40,284.80V287.60 M526.90,284.80V287.60 M527.30,284.80V287.60 M527.50,284.80V287.60 M528.20,284.80V287.60 M531.00,284.80V287.60 M532.00,284.80V287.60 M533.20,284.80V287.60 M536.10,284.80V287.60 M536.20,284.80V287.60 M536.40,284.80V287.60 M537.30,284.80V287.60 M538.20,284.80V287.60 M539.00,284.80V287.60 M539.20,284.80V287.60 M539.40,284.80V287.60 M539.70,284.80V287.60 M543.40,284.80V287.60 M544.20,284.80V287.60 M544.70,284.80V287.60 M544.90,284.80V287.60 M545.00,284.80V287.60 M545.80,284.80V287.60 M546.10,284.80V287.60 M546.20,284.80V287.60 M546.40,284.80V287.60 M546.60,284.80V287.60 M546.70,284.80V287.60 M547.80,284.80V287.60 M548.10,284.80V287.60 M549.00,284.80V287.60 M549.30,284.80V287.60 M550.20,284.80V287.60 M551.00,284.80V287.60 M551.20,284.80V287.60 M551.40,284.80V287.60 M551.50,284.80V287.60 M552.40,284.80V287.60 M554.10,284.80V287.60 M554.60,284.80V287.60 M555.00,284.80V287.60 M555.80,284.80V287.60 M555.90,284.80V287.60 M556.50,284.80V287.60 M556.60,284.80V287.60 M558.00,284.80V287.60 M558.20,284.80V287.60 M558.70,284.80V287.60 M558.90,284.80V287.60 M559.10,284.80V287.60 M559.70,284.80V287.60 M559.90,284.80V287.60 M560.30,284.80V287.60 M561.10,284.80V287.60 M561.30,284.80V287.60 M562.00,284.80V287.60 M562.90,284.80V287.60 M563.30,284.80V287.60 M564.00,284.80V287.60 M564.10,284.80V287.60 M564.60,284.80V287.60 M564.90,284.80V287.60 M565.60,284.80V287.60 M566.20,284.80V287.60 M566.30,284.80V287.60 M566.70,284.80V287.60 M566.80,284.80V287.60 M567.50,284.80V287.60 M567.90,284.80V287.60 M568.40,284.80V287.60 M568.70,284.80V287.60 M568.80,284.80V287.60 M569.70,284.80V287.60 M570.20,284.80V287.60 M570.80,284.80V287.60 M572.20,284.80V287.60 M573.40,284.80V287.60 M573.70,284.80V287.60 M573.80,284.80V287.60 M574.00,284.80V287.60 M574.10,284.80V287.60 M574.30,284.80V287.60 M574.40,284.80V287.60 M575.10,284.80V287.60 M575.30,284.80V287.60 M575.60,284.80V287.60 M578.10,284.80V287.60 M580.30,284.80V287.60 M581.40,284.80V287.60 M581.50,284.80V287.60 M582.00,284.80V287.60 M583.60,284.80V287.60 M584.40,284.80V287.60 M584.80,284.80V287.60 M585.50,284.80V287.60 M587.50,284.80V287.60 M587.60,284.80V287.60 M587.90,284.80V287.60 M588.50,284.80V287.60 M589.80,284.80V287.60 M590.50,284.80V287.60 M590.70,284.80V287.60 M592.10,284.80V287.60 M592.50,284.80V287.60 M593.50,284.80V287.60 M596.40,284.80V287.60 M597.40,284.80V287.60 M597.90,284.80V287.60 M599.50,284.80V287.60 M600.00,284.80V287.60 M600.30,284.80V287.60 M601.50,284.80V287.60 M603.10,284.80V287.60 M604.00,284.80V287.60 M604.90,284.80V287.60 M605.50,284.80V287.60 M605.60,284.80V287.60 M607.40,284.80V287.60 M607.50,284.80V287.60 M610.50,284.80V287.60 M611.20,284.80V287.60 M611.30,284.80V287.60 M611.60,284.80V287.60 M611.70,284.80V287.60 M612.00,284.80V287.60 M612.50,284.80V287.60 M612.70,284.80V287.60 M613.10,284.80V287.60 M613.20,284.80V287.60 M613.40,284.80V287.60 M613.50,284.80V287.60 M613.70,284.80V287.60 M614.00,284.80V287.60 M617.00,284.80V287.60 M618.50,284.80V287.60 M619.10,284.80V287.60 M619.70,284.80V287.60 M621.60,284.80V287.60 M623.50,284.80V287.60 M624.20,284.80V287.60 M624.40,284.80V287.60" stroke="#000" stroke-width="0.9"/>
<rect x="500.3" y="36.0" width="134.20" height="251.30" fill="none" stroke="#333333" stroke-width="1.0"/>
<path d="M497.90,261.51H500.30 M497.90,186.34H500.30 M497.90,111.17H500.30 M497.90,36.00H500.30 M628.40,287.30V289.90 M597.90,287.30V289.90 M567.40,287.30V289.90 M536.90,287.30V289.90 M506.40,287.30V289.90" stroke="#333333" stroke-width="1"/>
<text x="496.00" y="264.11" font-size="6.8" fill="#333333" text-anchor="end">−1</text>
<text x="496.00" y="188.94" font-size="6.8" fill="#333333" text-anchor="end">0</text>
<text x="496.00" y="113.77" font-size="6.8" fill="#333333" text-anchor="end">1</text>
<text x="496.00" y="38.60" font-size="6.8" fill="#333333" text-anchor="end">2</text>
<text x="628.40" y="298.60" font-size="6.8" fill="#333333" text-anchor="middle">0</text>
<text x="597.90" y="298.60" font-size="6.8" fill="#333333" text-anchor="middle">2</text>
<text x="567.40" y="298.60" font-size="6.8" fill="#333333" text-anchor="middle">4</text>
<text x="536.90" y="298.60" font-size="6.8" fill="#333333" text-anchor="middle">6</text>
<text x="506.40" y="298.60" font-size="6.8" fill="#333333" text-anchor="middle">8</text>
<text x="572.20" y="307.8" font-size="9.0" text-anchor="middle">Time to diagnosis (years)</text>
<text x="571.30" y="30.2" font-size="10.3" font-weight="bold" text-anchor="middle">All LC stages</text>
<text x="483.20" y="27.3" font-size="10" font-weight="bold">d</text>
<text transform="translate(8.9,155.6) rotate(-90)" font-size="9.9" text-anchor="middle"><tspan font-style="italic">ARG1</tspan> residuals</text>
<text x="643.0" y="122.9" font-size="8.2">Histology</text>
<circle cx="649.6" cy="134.6" r="1.6" fill="#000"/>
<path d="M649.6,144.6 L651.7,148.4 L647.5,148.4 Z" fill="#000"/>
<text x="660.0" y="136.8" font-size="6.8">NSCLC</text>
<text x="660.0" y="149.2" font-size="6.8">SCLC</text>
<text x="643.0" y="176.5" font-size="8.3">Cohort</text>
<circle cx="649.6" cy="188.1" r="1.8" fill="#0AA6EA"/>
<circle cx="649.6" cy="200.9" r="1.8" fill="#FB8A00"/>
<text x="660.0" y="190.6" font-size="6.8">HUNT</text>
<text x="660.0" y="203.4" font-size="6.8">NOWAC</text></svg>
</body></html>
